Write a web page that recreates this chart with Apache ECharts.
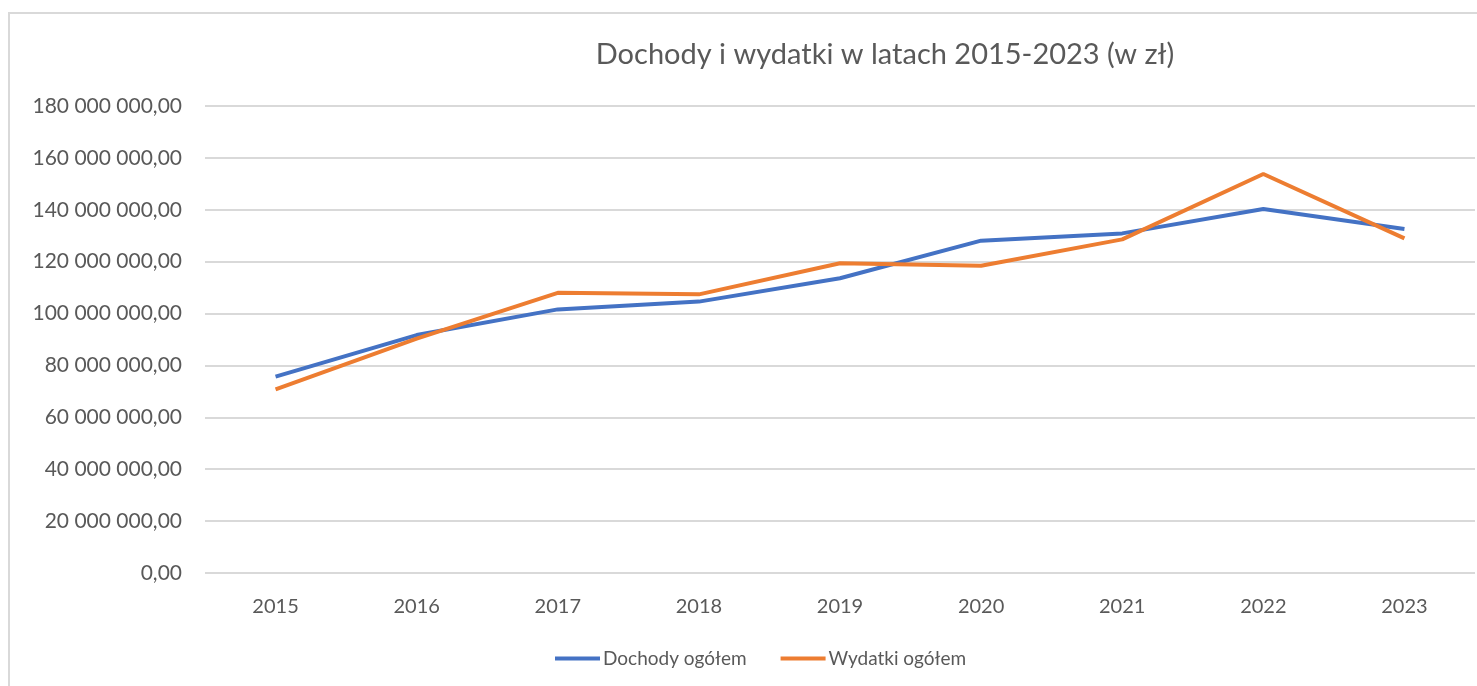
<!DOCTYPE html>
<html>
<head>
<meta charset="utf-8">
<script src="https://cdn.jsdelivr.net/npm/echarts@6/dist/echarts.min.js"></script>
<style>
    html, body {margin: 0; padding: 0; background: #fff;}
    #main {width: 1477px; height: 686px;}
</style>
</head>
<body>
<div id="main"></div>
<script>
// lata
const years = ['2015', '2016', '2017', '2018', '2019', '2020', '2021', '2022', '2023'];
// dochody ogółem (zł)
const dochody = [75700000, 91700000, 101600000, 104600000, 113600000, 128100000, 130900000, 140300000, 132600000];
// wydatki ogółem (zł)
const wydatki = [70800000, 90300000, 108000000, 107400000, 119400000, 118400000, 128600000, 153800000, 129000000];

const font = 'Lato, "Open Sans", sans-serif';
const textColor = '#595959';

// 180000000 -> "180 000 000,00"
const formatPl = v => {
    let s = Math.round(v).toString().replace(/\B(?=(\d{3})+(?!\d))/g, ' ');
    return s + ',00';
};

const chart = echarts.init(document.getElementById('main'));

const option = {
    animation: false,
    backgroundColor: '#fff',
    graphic: [
        {
            type: 'rect',
            shape: {x: 9, y: 13, width: 1500, height: 700},
            style: {fill: 'none', stroke: '#d9d9d9', lineWidth: 2},
            silent: true
        }
    ],
    title: {
        text: 'Dochody i wydatki w latach 2015-2023 (w zł)',
        left: 880,
        top: 35,
        textAlign: 'center',
        textStyle: {
            fontFamily: font,
            fontSize: 29,
            fontWeight: 'normal',
            color: textColor
        }
    },
    grid: {
        left: 205,
        right: 2,
        top: 106,
        bottom: 113,
        containLabel: false
    },
    legend: {
        data: ['Dochody ogółem', 'Wydatki ogółem'],
        left: 555,
        top: 649,
        padding: 0,
        itemWidth: 45,
        itemHeight: 4,
        itemGap: 34,
        icon: 'rect',
        textStyle: {
            fontFamily: font,
            fontSize: 19,
            color: textColor,
            padding: [0, 0, 0, -2]
        }
    },
    xAxis: {
        type: 'category',
        data: years,
        boundaryGap: true,
        axisLine: {show: false},
        axisTick: {show: false},
        axisLabel: {
            fontFamily: font,
            fontSize: 20,
            color: textColor,
            margin: 24
        }
    },
    yAxis: {
        type: 'value',
        min: 0,
        max: 180000000,
        interval: 20000000,
        axisLine: {show: false},
        axisTick: {show: false},
        splitLine: {lineStyle: {color: '#d9d9d9', width: 2}},
        axisLabel: {
            fontFamily: font,
            fontSize: 21,
            color: textColor,
            margin: 23,
            formatter: formatPl
        }
    },
    series: [
        {
            name: 'Dochody ogółem',
            type: 'line',
            data: dochody,
            symbol: 'none',
            lineStyle: {color: '#4472C4', width: 4},
            itemStyle: {color: '#4472C4'}
        },
        {
            name: 'Wydatki ogółem',
            type: 'line',
            data: wydatki,
            symbol: 'none',
            lineStyle: {color: '#ED7D31', width: 4},
            itemStyle: {color: '#ED7D31'}
        }
    ]
};

chart.setOption(option);
</script>
</body>
</html>
